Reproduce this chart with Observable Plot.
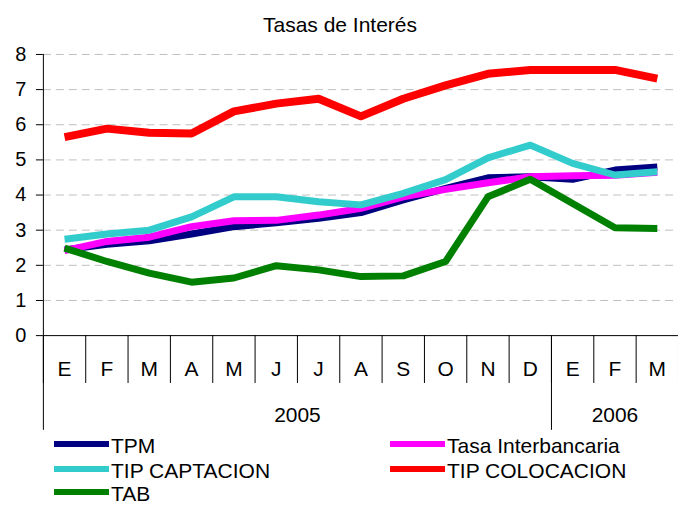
<!DOCTYPE html>
<html><head><meta charset="utf-8">
<script src="https://cdn.jsdelivr.net/npm/d3@7"></script>
<script src="https://cdn.jsdelivr.net/npm/@observablehq/plot@0.6"></script>
<style>
html,body{margin:0;padding:0;overflow:hidden;background:#fff;}
#wrap{position:relative;width:678px;height:505px;overflow:hidden;font-family:"Liberation Sans",Arial,sans-serif;color:#000;}
#title{position:absolute;left:0;width:680px;top:14px;text-align:center;font-size:21px;line-height:21px;}
#chart{position:absolute;left:0;top:40px;}
.leg{position:absolute;height:15px;}
.leg .sw{position:absolute;left:0;width:55px;height:6px;}
.leg .tx{position:absolute;left:57px;top:0;font-size:21px;line-height:15px;white-space:nowrap;}
</style>
</head><body>
<div id="wrap">
  <div id="title"></div>
  <div id="chart"></div>
</div>
<script>
const title = "Tasas de Interés";
const months = ["E","F","M","A","M","J","J","A","S","O","N","D","E","F","M"];
const years = ["2005","2006"];
const monthsPerYear = [12, 3];
const seriesNames = ["TPM","Tasa Interbancaria","TIP CAPTACION","TIP COLOCACION","TAB"];
const seriesColors = ["#000080","#FF00FF","#33CCCC","#FF0000","#008000"];
const tpm        = [2.44,2.60,2.70,2.89,3.10,3.21,3.34,3.50,3.86,4.19,4.49,4.52,4.45,4.71,4.80];
const interbank  = [2.42,2.68,2.80,3.10,3.27,3.28,3.43,3.62,3.95,4.16,4.35,4.52,4.55,4.56,4.65];
const captacion  = [2.74,2.89,3.00,3.38,3.95,3.95,3.81,3.72,4.05,4.44,5.06,5.42,4.90,4.57,4.66];
const colocacion = [5.65,5.89,5.77,5.75,6.38,6.60,6.74,6.24,6.74,7.12,7.45,7.56,7.56,7.56,7.31];
const tab        = [2.49,2.11,1.78,1.52,1.64,1.99,1.87,1.68,1.70,2.11,3.95,4.45,3.76,3.07,3.05];
const yTicks = [0,1,2,3,4,5,6,7,8];

document.getElementById("title").textContent = title;

const seriesValues = [tpm, interbank, captacion, colocacion, tab];
const rows = [];
seriesNames.forEach((s, k) => seriesValues[k].forEach((v, i) => rows.push({series: s, i, v})));

const n = months.length;
const boundaries = d3.range(0, n + 1);
const yearStarts = [0];
monthsPerYear.forEach(c => yearStarts.push(yearStarts[yearStarts.length - 1] + c));
const yearSeps = yearStarts.slice(0, -1);
const yearCenters = monthsPerYear.map((c, k) => yearStarts[k] + c / 2);
const monthCenters = months.map((m, i) => i + 0.5);

const chart = Plot.plot({
  width: 680,
  height: 395,
  marginLeft: 43,
  marginRight: 0,
  marginTop: 14,
  marginBottom: 99,
  style: {fontFamily: "Liberation Sans, Arial, sans-serif", fontSize: "21px", background: "transparent", overflow: "visible"},
  x: {domain: [0, n], axis: null},
  y: {domain: [0, 8], axis: null},
  color: {domain: seriesNames, range: seriesColors},
  marks: [
    Plot.ruleY(yTicks.filter(d => d > 0), {stroke: "#c0c0c0", strokeWidth: 1, strokeDasharray: "8,5"}),
    Plot.axisY({ticks: yTicks, label: null, tickSize: 7, tickPadding: 10, tickFormat: d => String(d), fontSize: 20, stroke: "#000", strokeOpacity: 1, color: "#000"}),
    Plot.axisX({ticks: boundaries, label: null, tickSize: 48, tickFormat: () => "", stroke: "#000", strokeOpacity: 1}),
    Plot.axisX({ticks: yearSeps, label: null, tickSize: 95, tickFormat: () => "", stroke: "#000", strokeOpacity: 1}),
    Plot.axisX({ticks: monthCenters, label: null, tickSize: 0, tickPadding: 26, tickFormat: d => months[Math.floor(d)], fill: "#000"}),
    Plot.axisX({ticks: yearCenters, label: null, tickSize: 0, tickPadding: 72, tickFormat: d => years[yearCenters.indexOf(d)], fill: "#000"}),
    Plot.line(rows, {x: d => d.i + 0.5, y: "v", z: "series", stroke: "series", strokeWidth: d => d.series === "TIP COLOCACION" ? 8 : 7, strokeLinejoin: "round", strokeLinecap: "butt"}),
    Plot.ruleX([0], {y1: 0, y2: 8, stroke: "#000", strokeWidth: 1}),
    Plot.ruleY([0], {stroke: "#000", strokeWidth: 1})
  ]
});
document.getElementById("chart").appendChild(chart);

// legend
const legPos = [
  {left: 54, top: 438}, {left: 390, top: 438},
  {left: 54, top: 463}, {left: 390, top: 463},
  {left: 54, top: 486}
];
const wrap = document.getElementById("wrap");
seriesNames.forEach((s, k) => {
  const d = document.createElement("div");
  d.className = "leg";
  d.style.left = legPos[k].left + "px";
  d.style.top = legPos[k].top + "px";
  const sw = document.createElement("div");
  sw.className = "sw";
  sw.style.background = seriesColors[k];
  sw.style.top = "3px";
  const tx = document.createElement("div");
  tx.className = "tx";
  tx.textContent = s;
  d.appendChild(sw); d.appendChild(tx);
  wrap.appendChild(d);
});
</script>
</body></html>
